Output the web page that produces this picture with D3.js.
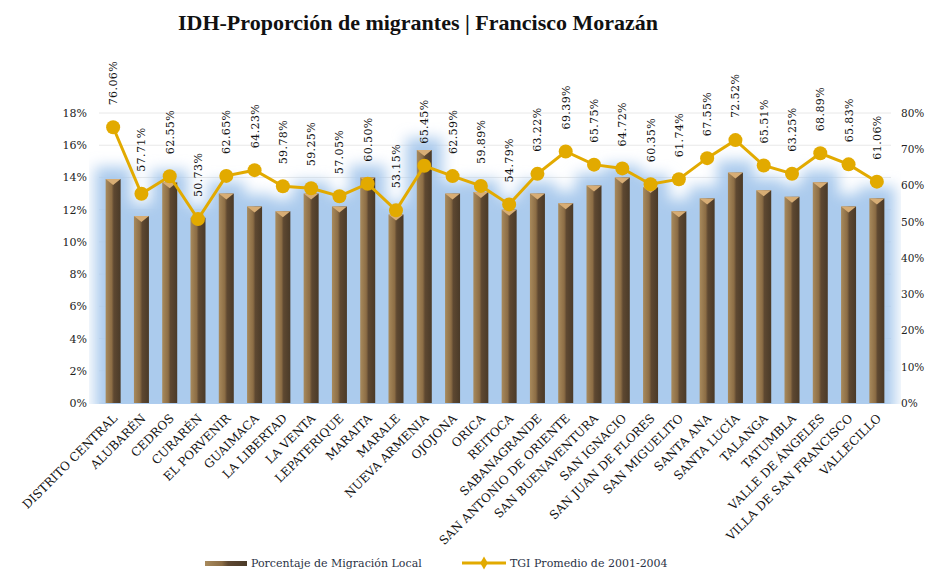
<!DOCTYPE html>
<html>
<head>
<meta charset="utf-8">
<script src="https://cdn.jsdelivr.net/npm/d3@7"></script>
<style>
  body { margin: 0; background: #fff; }
  text { font-family: "DejaVu Serif", serif; }
</style>
</head>
<body>
<div id="chart"></div>
<script>
// municipios de Francisco Morazán
var municipios = ["DISTRITO CENTRAL", "ALUBARÉN", "CEDROS", "CURARÉN", "EL PORVENIR", "GUAIMACA",
  "LA LIBERTAD", "LA VENTA", "LEPATERIQUE", "MARAITA", "MARALE", "NUEVA ARMENIA", "OJOJONA",
  "ORICA", "REITOCA", "SABANAGRANDE", "SAN ANTONIO DE ORIENTE", "SAN BUENAVENTURA", "SAN IGNACIO",
  "SAN JUAN DE FLORES", "SAN MIGUELITO", "SANTA ANA", "SANTA LUCÍA", "TALANGA", "TATUMBLA",
  "VALLE DE ÁNGELES", "VILLA DE SAN FRANCISCO", "VALLECILLO"];

// Porcentaje de Migración Local (eje izq.)
var migracion = [13.9, 11.6, 13.7, 11.5, 13.0, 12.2, 11.9, 13.0, 12.2, 14.0, 11.7, 15.7, 13.0,
  13.1, 12.0, 13.0, 12.4, 13.5, 14.0, 13.4, 11.9, 12.7, 14.3, 13.2, 12.8, 13.7, 12.2, 12.7];

// TGI promedio 2001-2004 (eje der.)
var tgi = [76.06, 57.71, 62.55, 50.73, 62.65, 64.23, 59.78, 59.25, 57.05, 60.50, 53.15, 65.45, 62.59,
  59.89, 54.79, 63.22, 69.39, 65.75, 64.72, 60.35, 61.74, 67.55, 72.52, 65.51, 63.25, 68.89, 65.83, 61.06];

var leftTicks = [0, 2, 4, 6, 8, 10, 12, 14, 16, 18];
var rightTicks = [0, 10, 20, 30, 40, 50, 60, 70, 80];

var svgWidth = 927;
var svgHeight = 572;
var margin = { top: 113, right: 36, bottom: 169, left: 99 };
var width = svgWidth - margin.left - margin.right;
var height = svgHeight - margin.top - margin.bottom;

var svg = d3.select("#chart").append("svg")
  .attr("width", svgWidth)
  .attr("height", svgHeight);

var defs = svg.append("defs");
var grad = defs.append("linearGradient").attr("id", "barGrad")
  .attr("x1", "0%").attr("x2", "100%").attr("y1", "0%").attr("y2", "0%");
grad.append("stop").attr("offset", "0%").attr("stop-color", "#a88a5c");
grad.append("stop").attr("offset", "40%").attr("stop-color", "#8c6d45");
grad.append("stop").attr("offset", "55%").attr("stop-color", "#5e4831");
grad.append("stop").attr("offset", "100%").attr("stop-color", "#4a3a28");

defs.append("filter").attr("id", "glow")
  .attr("x", "-50%").attr("y", "-50%").attr("width", "200%").attr("height", "200%")
  .append("feGaussianBlur").attr("stdDeviation", 7);

defs.append("clipPath").attr("id", "plotClip")
  .append("rect").attr("x", -10).attr("y", -60).attr("width", width + 20).attr("height", height + 61);

var chartGroup = svg.append("g")
  .attr("transform", `translate(${margin.left}, ${margin.top})`);

var x = d3.scaleBand().domain(municipios).range([0, width]).padding(0);
var yLeft = d3.scaleLinear().domain([0, 18]).range([height, 0]);
var yRight = d3.scaleLinear().domain([0, 80]).range([height, 0]);

// gridlines
chartGroup.append("g").selectAll("line")
  .data(leftTicks).enter().append("line")
  .attr("x1", 0).attr("x2", width)
  .attr("y1", d => yLeft(d)).attr("y2", d => yLeft(d))
  .attr("stroke", "#e8e8e8").attr("stroke-width", 1);

// blue glow behind bars
var glowG = chartGroup.append("g").attr("clip-path", "url(#plotClip)")
  .append("g").attr("filter", "url(#glow)");
glowG.selectAll("rect")
  .data(migracion).enter().append("rect")
  .attr("x", (d, i) => x(municipios[i]) - 4)
  .attr("width", x.bandwidth() + 8)
  .attr("y", d => yLeft(d) - 12)
  .attr("height", d => height - yLeft(d) + 24)
  .attr("fill", "#abcbed");

var barW = 15;
var bars = chartGroup.append("g").selectAll("g")
  .data(migracion).enter().append("g");
bars.append("rect")
  .attr("x", (d, i) => x(municipios[i]) + (x.bandwidth() - barW) / 2)
  .attr("y", d => yLeft(d))
  .attr("width", barW)
  .attr("height", d => height - yLeft(d))
  .attr("fill", "url(#barGrad)");
bars.append("path")
  .attr("d", (d, i) => {
    var x0 = x(municipios[i]) + (x.bandwidth() - barW) / 2;
    var y0 = yLeft(d);
    return `M${x0},${y0}L${x0 + barW},${y0}L${x0 + barW / 2},${y0 + 6}Z`;
  })
  .attr("fill", "#d7ad75");

// left axis
var leftAxis = d3.axisLeft(yLeft).tickValues(leftTicks).tickSize(0).tickPadding(12)
  .tickFormat(d => d + "%");
chartGroup.append("g").call(leftAxis)
  .call(g => g.select(".domain").remove())
  .selectAll("text").attr("font-size", 11).attr("fill", "#222")
  .style("font-family", "DejaVu Serif");

// right axis
var rightAxis = d3.axisRight(yRight).tickValues(rightTicks).tickSize(0).tickPadding(10)
  .tickFormat(d => d + "%");
chartGroup.append("g").attr("transform", `translate(${width}, 0)`).call(rightAxis)
  .call(g => g.select(".domain").remove())
  .selectAll("text").attr("font-size", 10.5).attr("fill", "#222")
  .style("font-family", "DejaVu Serif");

// x labels
chartGroup.append("g").selectAll("text")
  .data(municipios).enter().append("text")
  .attr("transform", d => `translate(${x(d) + x.bandwidth() / 2 + 5}, ${height + 16}) rotate(-45)`)
  .attr("text-anchor", "end")
  .attr("font-size", 12)
  .attr("fill", "#111")
  .text(d => d);

// line
var line = d3.line()
  .x((d, i) => x(municipios[i]) + x.bandwidth() / 2)
  .y(d => yRight(d));
chartGroup.append("path")
  .datum(tgi)
  .attr("d", line)
  .attr("fill", "none")
  .attr("stroke", "#e2aa00")
  .attr("stroke-width", 3);

chartGroup.append("g").selectAll("circle")
  .data(tgi).enter().append("circle")
  .attr("cx", (d, i) => x(municipios[i]) + x.bandwidth() / 2)
  .attr("cy", d => yRight(d))
  .attr("r", 7)
  .attr("fill", "#e2aa00");

// value labels
chartGroup.append("g").selectAll("text")
  .data(tgi).enter().append("text")
  .attr("transform", (d, i) => `translate(${x(municipios[i]) + x.bandwidth() / 2 + 4}, ${yRight(d) - 22}) rotate(-90)`)
  .attr("font-size", 11)
  .attr("letter-spacing", 0.4)
  .attr("fill", "#111")
  .text(d => d.toFixed(2) + "%");

// title
svg.append("text")
  .attr("x", 418).attr("y", 30)
  .attr("text-anchor", "middle")
  .attr("font-size", 22)
  .attr("font-weight", "bold")
  .attr("fill", "#111")
  .style("font-family", "Liberation Serif")
  .text("IDH-Proporción de migrantes | Francisco Morazán");

// legend
var legend = svg.append("g");
legend.append("rect").attr("x", 205).attr("y", 561).attr("width", 42).attr("height", 5)
  .attr("fill", "url(#barGrad)");
legend.append("text").attr("x", 251).attr("y", 567).attr("font-size", 11).attr("fill", "#2b3245")
  .text("Porcentaje de Migración Local");
legend.append("line").attr("x1", 462).attr("x2", 506).attr("y1", 563).attr("y2", 563)
  .attr("stroke", "#e2aa00").attr("stroke-width", 3);
legend.append("path").attr("d", d3.symbol(d3.symbolDiamond, 50)())
  .attr("transform", "translate(484,563)").attr("fill", "#e2aa00");
legend.append("text").attr("x", 510).attr("y", 567).attr("font-size", 11).attr("fill", "#2b3245")
  .text("TGI Promedio de 2001-2004");
</script>
</body>
</html>
